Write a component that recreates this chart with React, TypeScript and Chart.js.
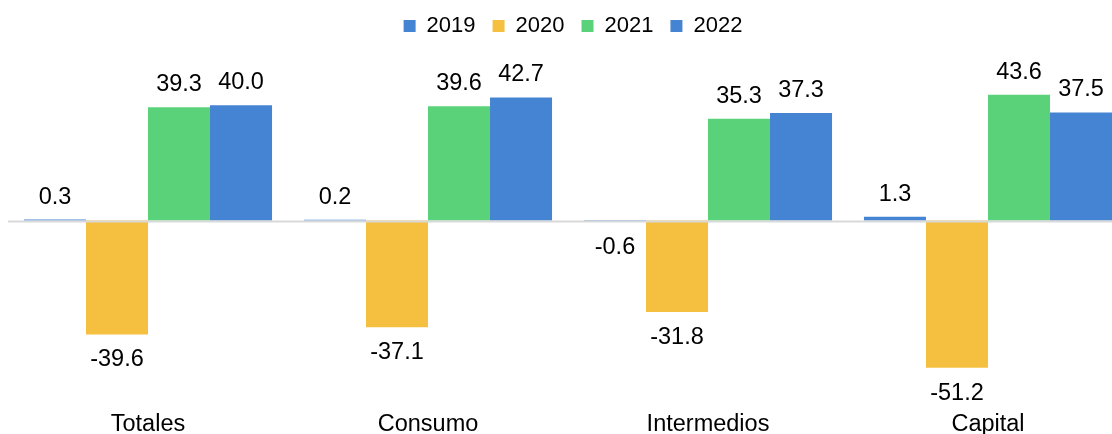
import React, { useEffect, useRef } from "react";
import { Chart, registerables } from "chart.js";

Chart.register(...registerables);

const categories = ["Totales", "Consumo", "Intermedios", "Capital"];
const seriesNames = ["2019", "2020", "2021", "2022"];
const values2019 = [0.3, 0.2, -0.6, 1.3];
const values2020 = [-39.6, -37.1, -31.8, -51.2];
const values2021 = [39.3, 39.6, 35.3, 43.6];
const values2022 = [40.0, 42.7, 37.3, 37.5];
const seriesColors = ["#4584D3", "#F5C040", "#5AD27A", "#4584D3"];

const CANVAS_W = 1130;
const CANVAS_H = 457;
const FONT = "'Liberation Sans', Arial, sans-serif";

const valueLabels = {
  id: "valueLabels",
  afterDatasetsDraw(chart: any) {
    const { ctx } = chart;
    const yScale = chart.scales.y;
    const area = chart.chartArea;
    const y0 = yScale.getPixelForValue(0);
    ctx.save();
    ctx.strokeStyle = "#D9D9D9";
    ctx.lineWidth = 2;
    ctx.beginPath();
    ctx.moveTo(area.left, y0 + 1);
    ctx.lineTo(area.right, y0 + 1);
    ctx.stroke();

    ctx.fillStyle = "#000000";
    ctx.font = `23.5px ${FONT}`;
    ctx.textAlign = "center";
    ctx.textBaseline = "alphabetic";
    chart.data.datasets.forEach((ds: any, di: number) => {
      const meta = chart.getDatasetMeta(di);
      meta.data.forEach((bar: any, i: number) => {
        const v = ds.data[i] as number;
        const txt = v.toFixed(1);
        if (v >= 0) {
          ctx.fillText(txt, bar.x, bar.y - 16);
        } else {
          ctx.fillText(txt, bar.x, bar.y + 32);
        }
      });
    });
    ctx.restore();
  },
};

export default function App() {
  const ref = useRef<HTMLCanvasElement | null>(null);

  useEffect(() => {
    if (!ref.current) return;
    const allSeries = [values2019, values2020, values2021, values2022];
    const chart = new Chart(ref.current, {
      type: "bar",
      data: {
        labels: categories,
        datasets: allSeries.map((d, i) => ({
          label: seriesNames[i],
          data: d,
          backgroundColor: seriesColors[i],
          borderWidth: 0,
          categoryPercentage: 0.886,
          barPercentage: 1,
        })),
      },
      options: {
        animation: false,
        responsive: false,
        devicePixelRatio: 1,
        layout: { padding: 0 },
        plugins: {
          legend: {
            position: "top",
            labels: {
              boxWidth: 12,
              boxHeight: 12,
              padding: 17,
              color: "#000000",
              font: { family: FONT, size: 22 },
            },
          },
          tooltip: { enabled: false },
          title: { display: false },
        },
        scales: {
          x: {
            grid: { display: false, drawTicks: false },
            border: { display: false },
            ticks: {
              color: "#000000",
              padding: 16,
              font: { family: FONT, size: 23.5 },
            },
          },
          y: {
            position: "right",
            min: -60.56,
            max: 60.2,
            grid: { display: false, drawTicks: false },
            border: { display: false },
            ticks: { display: false },
            afterFit: (scale: any) => {
              scale.width = 10;
            },
          },
        },
      },
      plugins: [valueLabels],
    });
    return () => chart.destroy();
  }, []);

  return (
    <div
      style={{
        position: "fixed",
        left: 8,
        top: -2,
        width: 1104,
        height: 436,
        overflow: "hidden",
      }}
    >
      <canvas
        ref={ref}
        width={CANVAS_W}
        height={CANVAS_H}
        style={{ width: CANVAS_W, height: CANVAS_H, display: "block" }}
      />
    </div>
  );
}
